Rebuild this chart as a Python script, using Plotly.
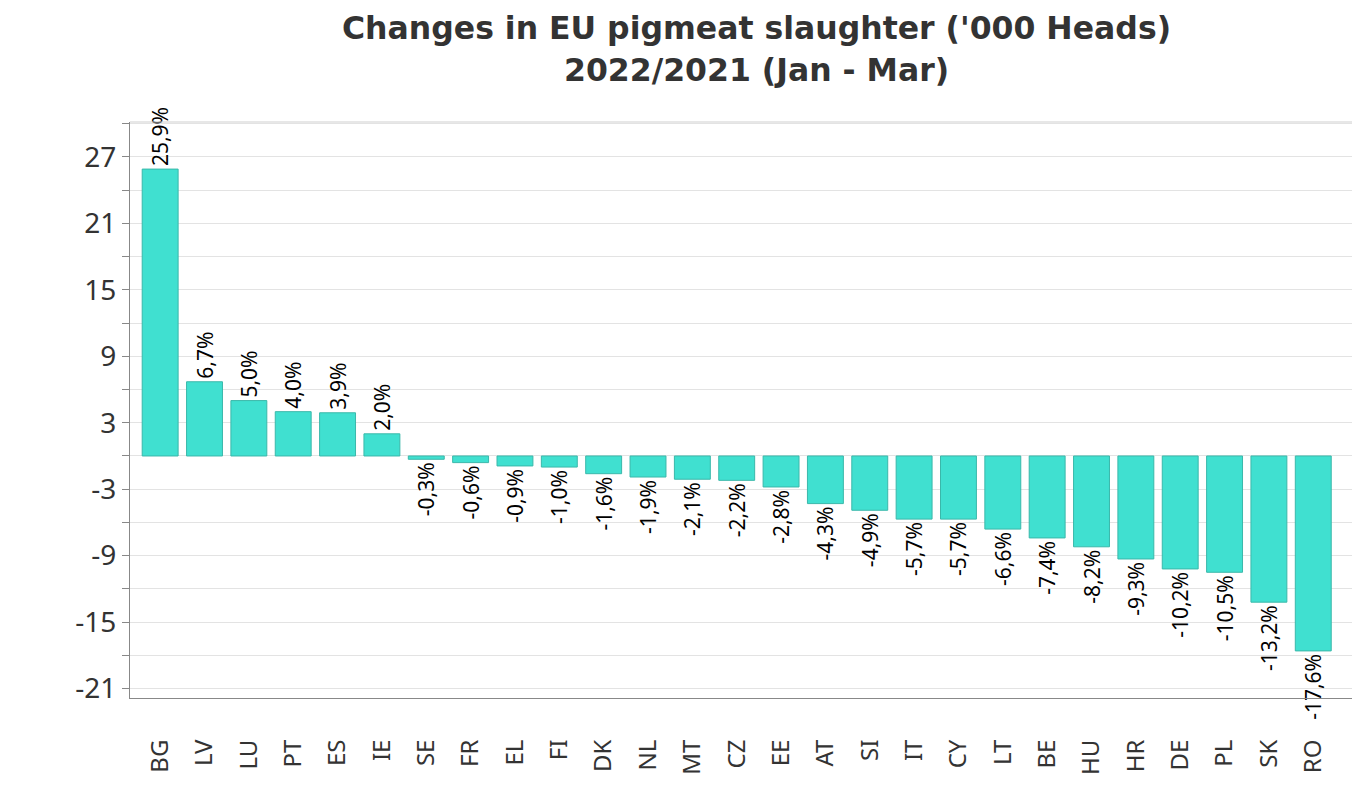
import plotly.graph_objects as go

countries = ["BG", "LV", "LU", "PT", "ES", "IE", "SE", "FR", "EL", "FI", "DK", "NL", "MT", "CZ",
             "EE", "AT", "SI", "IT", "CY", "LT", "BE", "HU", "HR", "DE", "PL", "SK", "RO"]
changes = [25.9, 6.7, 5.0, 4.0, 3.9, 2.0, -0.3, -0.6, -0.9, -1.0, -1.6, -1.9, -2.1, -2.2,
           -2.8, -4.3, -4.9, -5.7, -5.7, -6.6, -7.4, -8.2, -9.3, -10.2, -10.5, -13.2, -17.6]
y_ticks = [-21, -15, -9, -3, 3, 9, 15, 21, 27]
labels = [f"{v:.1f}%".replace(".", ",") for v in changes]

# page body has an 8px margin: figure coordinates = screen coordinates - 8
OFF = 8
W, H = 1360, 796 - 2 * OFF
plot_l, plot_r, plot_t, plot_b = 130 - OFF, W, 122 - OFF, 698 - OFF
px_per_cat = 44.35
x_lo = -0.68
x_hi = x_lo + (plot_r - plot_l) / px_per_cat

def to_paper(px, py):
    px -= OFF
    py -= OFF
    return (px - plot_l) / (plot_r - plot_l), (plot_b - py) / (plot_b - plot_t)

fig = go.Figure()
fig.add_trace(go.Bar(
    x=list(range(len(countries))), y=changes, text=labels,
    textposition="outside", textangle=-90, cliponaxis=False, constraintext="none",
    textfont=dict(family="Noto Sans", size=21, color="#000000"),
    marker=dict(color="#40E0D0", line=dict(color="#3AB8AA", width=1)),
    width=0.81, hoverinfo="skip",
))

fig.update_layout(
    width=W, height=H,
    margin=dict(l=plot_l, r=W - plot_r, t=plot_t, b=H - plot_b, autoexpand=False),
    paper_bgcolor="white", plot_bgcolor="white",
    showlegend=False,
    font=dict(family="Noto Sans", color="#333333"),
)
title_font = dict(family="DejaVu Sans", size=31.5, color="#333333")
x0, y0 = to_paper(756, OFF)
_, y1 = to_paper(756, 70)
fig.add_annotation(text="<b>Changes in EU pigmeat slaughter ('000 Heads)</b>", xref="paper", yref="paper",
                   x=x0, y=y0, xanchor="center", yanchor="top", showarrow=False, font=title_font)
fig.add_annotation(text="<b>2022/2021 (Jan - Mar)</b>", xref="paper", yref="paper",
                   x=x0, y=y1, xanchor="center", yanchor="middle", showarrow=False, font=title_font)

# light top border of the plot area
fig.add_shape(type="line", xref="paper", yref="paper", x0=0, x1=1, y0=1, y1=1,
              line=dict(color="#CFCFCF", width=1))

fig.update_xaxes(
    range=[x_lo, x_hi], tickmode="array", tickvals=list(range(len(countries))), ticktext=countries,
    tickangle=-90, tickfont=dict(family="Noto Sans", size=24, color="#333333"),
    showline=True, linecolor="#888888", linewidth=1, ticks="", showgrid=False,
    ticklabelstandoff=31, automargin=False,
)
fig.update_yaxes(
    range=[-21.85, 30.15], tickmode="array", tickvals=y_ticks, ticktext=[str(t) for t in y_ticks],
    tickfont=dict(family="Noto Sans", size=28, color="#333333"),
    showline=True, linecolor="#888888", linewidth=1,
    ticks="outside", ticklen=7, tickcolor="#888888", automargin=False,
    showgrid=True, gridcolor="#E3E3E3", zeroline=True, zerolinecolor="#E3E3E3", zerolinewidth=1,
    minor=dict(dtick=3, tick0=0, showgrid=True, gridcolor="#E3E3E3", ticks="outside", ticklen=7, tickcolor="#888888"),
)

fig.write_html("out.html")
